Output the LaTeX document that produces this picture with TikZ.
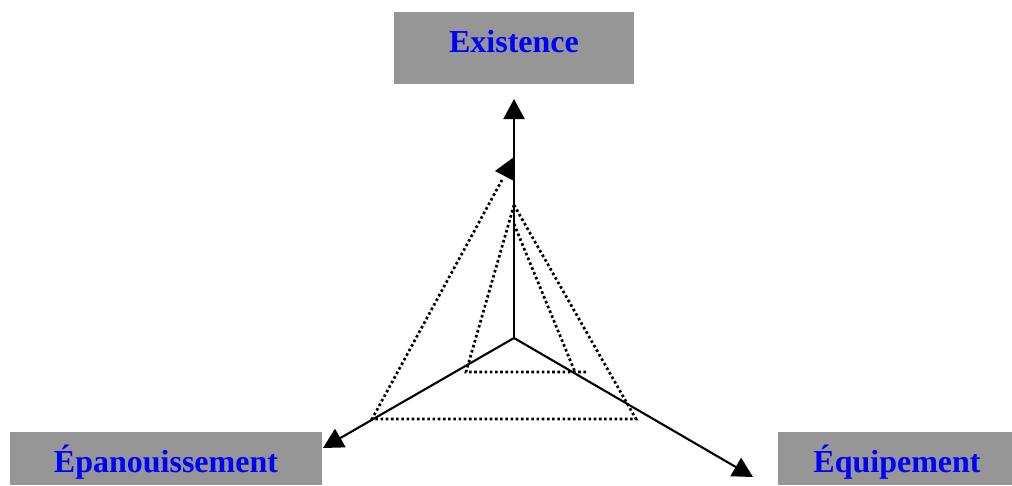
\documentclass[tikz,border=0pt]{standalone}
\usepackage{fontspec}
\setmainfont{Liberation Serif}
\usetikzlibrary{arrows.meta}
\definecolor{boxgray}{RGB}{150,150,150}
\definecolor{lblue}{RGB}{0,0,255}
\begin{document}
\begin{tikzpicture}[x=1pt,y=-1pt,
  greybox/.style={fill=boxgray,draw=none,inner sep=0pt},
  lbl/.style={anchor=base,inner sep=0pt,font=\fontsize{32}{36}\selectfont\bfseries,text=lblue},
  axis/.style={line width=2.1pt,-{Triangle[length=20pt,width=21pt]}},
  dots/.style={line width=2.7pt,dash pattern=on 2.6pt off 2.6pt}]
\useasboundingbox (0,0) rectangle (1012,485);
% boxes
\node[greybox,minimum width=240pt,minimum height=72pt] (bE) at (514,48) {};
\node[lbl] (tE) at (514,52) {Existence};
\node[greybox,minimum width=312pt,minimum height=53pt] (bP) at (166,458.5) {};
\node[lbl] (tP) at (166,472) {Épanouissement};
\node[greybox,minimum width=234pt,minimum height=53pt] (bQ) at (895,458.5) {};
\node[lbl] (tQ) at (897,472) {Équipement};
% coordinates
\coordinate (O) at (514,338);
\coordinate (tipE) at (514,99);
\coordinate (tipP) at (323,448);
\coordinate (tipQ) at (753,477);
\coordinate (apex) at (514,205);
\coordinate (i1) at (466,372);
\coordinate (i2) at (575,372);
\coordinate (i2top) at (514,224);
\coordinate (iR) at (587,372);
\coordinate (o1) at (372,419);
\coordinate (o2) at (636,419);
\coordinate (oTop) at (502,180);
% dotted pyramids
\draw[dots] (i2top) -- (i2);
\draw[dots] (apex) -- (i1) -- (iR);
\draw[dots] (apex) -- (o2) -- (o1) -- (oTop);
% axes
\draw[axis] (O) -- (tipE);
\draw[axis] (O) -- (tipP);
\draw[axis] (O) -- (tipQ);
% small head
\fill (514,157) -- (495,171) -- (514,181) -- cycle;
\end{tikzpicture}
\end{document}
